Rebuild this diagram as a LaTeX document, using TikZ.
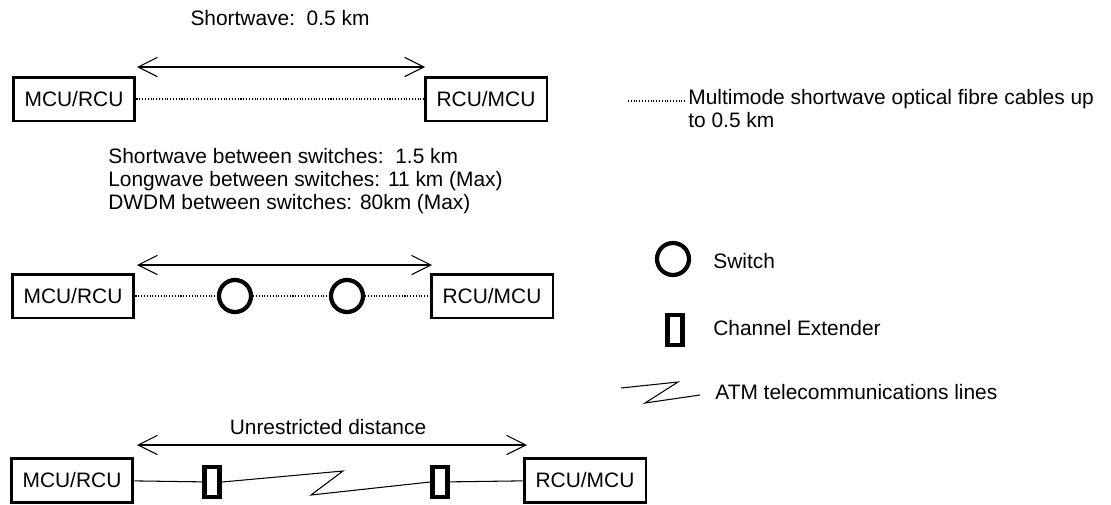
\documentclass[tikz,border=0pt]{standalone}
\usepackage{fontspec}
\setmainfont{Liberation Sans}
\usetikzlibrary{arrows.meta}

\begin{document}
\begin{tikzpicture}[
    x=0.02cm, y=-0.02cm,
    every node/.style={font=\fontsize{11.9}{13}\selectfont, inner sep=0pt},
    unit/.style={rectangle, draw=black, line width=1.7pt,
                 minimum width=2.44cm, minimum height=0.88cm},
    switch/.style={circle, draw=black, line width=2.4pt, minimum size=0.64cm},
    ext/.style={rectangle, draw=black, line width=2.8pt,
                minimum width=0.3cm, minimum height=0.6cm},
    fibre/.style={densely dotted, line width=0.6pt},
    wire/.style={line width=0.6pt},
    span/.style={{Straight Barb[length=11pt,width=11pt]}-{Straight Barb[length=11pt,width=11pt]}, line width=0.6pt},
    lbl/.style={anchor=west, align=left}
]
\useasboundingbox (0,0) rectangle (1111,504);

% row 1: shortwave
\node                    (t1) at (280,18)  {Shortwave:\ \ 0.5 km};
\coordinate (a1l) at (137,67);
\coordinate (a1r) at (425,67);
\draw[span] (a1l) -- (a1r);
\node[unit] (m1) at (74,99)  {MCU/RCU};
\node[unit] (r1) at (486,99) {RCU/MCU};
\draw[fibre] (m1) -- (r1);

% row 2: switches
\node[lbl, anchor=north west] (t2) at (108,148)
  {Shortwave between switches:\ \ 1.5 km\\
   Longwave between switches: 11 km (Max)\\
   DWDM between switches: 80km (Max)};
\coordinate (a2l) at (137,265);
\coordinate (a2r) at (432,265);
\draw[span] (a2l) -- (a2r);
\node[unit]   (m2) at (73,296)  {MCU/RCU};
\node[switch] (s1) at (235,296) {};
\node[switch] (s2) at (347,296) {};
\node[unit]   (r2) at (492,296) {RCU/MCU};
\draw[fibre] (m2) -- (s1);
\draw[fibre] (s1) -- (s2);
\draw[fibre] (s2) -- (r2);

% row 3: channel extenders
\node (t3) at (328,427) {Unrestricted distance};
\coordinate (a3l) at (137,445);
\coordinate (a3r) at (527,445);
\draw[span] (a3l) -- (a3r);
\node[unit] (m3) at (72,480)  {MCU/RCU};
\node[ext]  (e1) at (212,482) {};
\node[ext]  (e2) at (440,482) {};
\node[unit] (r3) at (585,480) {RCU/MCU};
\coordinate (z1) at (343,471);
\coordinate (z2) at (311,495);
\draw[wire] (m3) -- (e1);
\draw[wire] (e1.east) -- (z1) -- (z2) -- (e2.west);
\draw[wire] (e2) -- (r3);

% legend
\coordinate (k1a) at (628,101);
\coordinate (k1b) at (686,101);
\draw[fibre] (k1a) -- (k1b);
\node[lbl, anchor=north west] (k1) at (688,89)
  {Multimode shortwave optical fibre cables up\\to 0.5 km};
\node[switch] (k2s) at (673,259) {};
\node[lbl] (k2) at (713,261) {Switch};
\node[ext]  (k3e) at (675,330) {};
\node[lbl] (k3) at (713,328) {Channel Extender};
\coordinate (k4a) at (621,388);
\coordinate (k4b) at (678,382);
\coordinate (k4c) at (645,403);
\coordinate (k4d) at (700,395);
\draw[wire] (k4a) -- (k4b) -- (k4c) -- (k4d);
\node[lbl] (k4) at (715,392) {ATM telecommunications lines};
\end{tikzpicture}
\end{document}
